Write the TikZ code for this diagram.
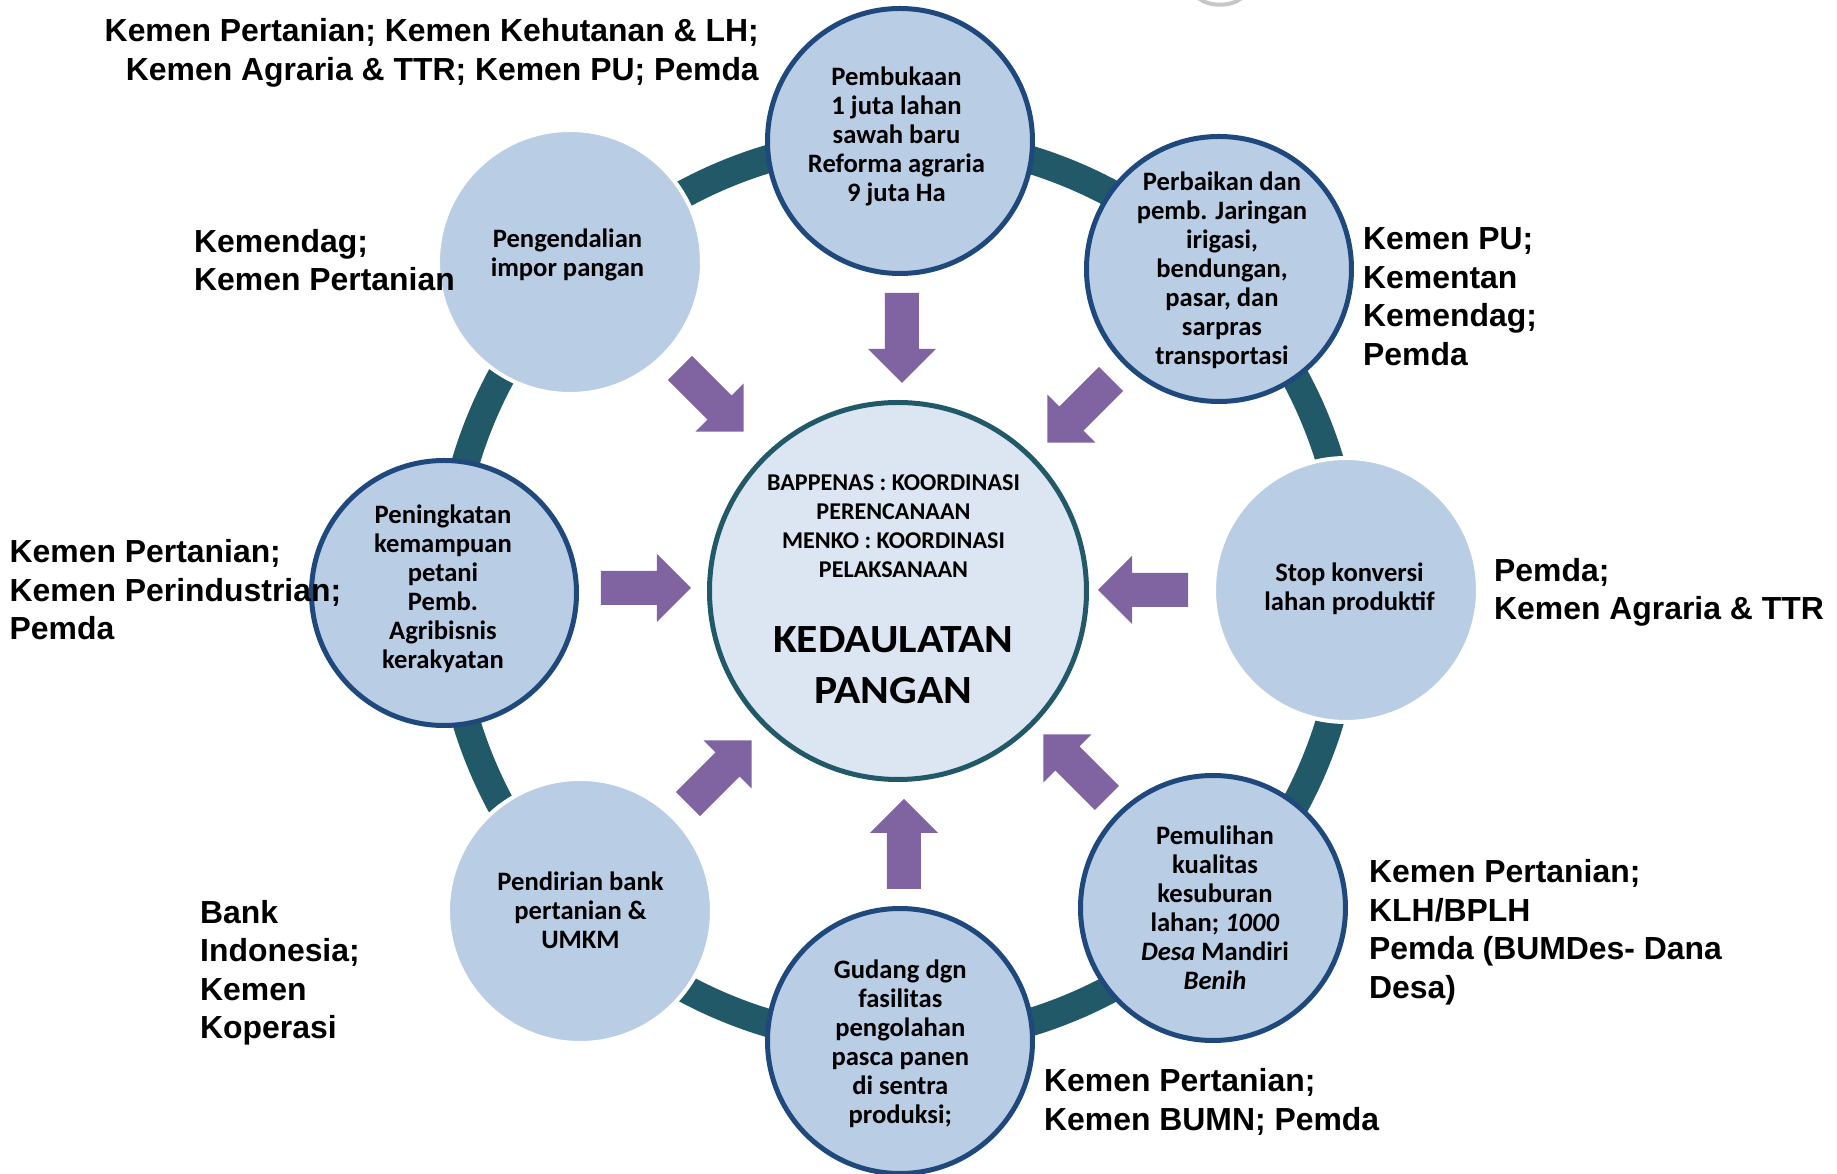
\documentclass[tikz,border=0pt]{standalone}
\usepackage{fontspec}
\setmainfont{Carlito}
\newfontfamily\arialfont{Liberation Sans}
\newfontfamily\titlefont{Carlito}[FakeStretch=1.09]
\usepackage{xcolor}

\definecolor{ringteal}{HTML}{215968}
\definecolor{satfill}{HTML}{B9CDE5}
\definecolor{satline}{HTML}{1F497D}
\definecolor{hubfill}{HTML}{DCE6F2}
\definecolor{arrowpurple}{HTML}{8064A2}

\tikzset{
  inarrow/.pic={\fill[arrowpurple] (0,-17) -- (56,-17) -- (56,-34) -- (90,0) -- (56,34) -- (56,17) -- (0,17) -- cycle;}
}

\begin{document}
\begin{tikzpicture}[x=1pt,y=1pt,
  hub/.style={circle,draw=ringteal,line width=5pt,fill=hubfill,minimum size=377pt,inner sep=0pt},
  sat/.style={circle,draw=satline,line width=5pt,fill=satfill,minimum size=265pt,inner sep=0pt},
  satplain/.style={circle,draw=white,line width=4pt,fill=satfill,minimum size=264pt,inner sep=0pt},
  sattext/.style={align=center,inner sep=0pt,font=\bfseries\fontsize{26.6pt}{29pt}\selectfont},
  hubnote/.style={align=center,inner sep=0pt,font=\bfseries\fontsize{24.1pt}{29pt}\selectfont},
  hubtitle/.style={align=center,inner sep=0pt,font=\titlefont\bfseries\fontsize{40pt}{51pt}\selectfont},
  agency/.style={align=left,inner sep=0pt,anchor=west,font=\arialfont\bfseries\fontsize{31.9pt}{38.5pt}\selectfont}]
\useasboundingbox (-898,-583) rectangle (939,591);
% ring behind the circles
\draw[ringteal,line width=28pt] (0,0) circle[radius=451];
\node[hub] (hub) at (0,0) {};
% grey rim at the top edge
\draw[gray!45,line width=4pt] (300,593) .. controls (312,584) and (332,584) .. (344,593);
% arrows into the hub
\pic[rotate=-90] at (4,298) {inarrow};
\pic[rotate=-45] at (-218,223) {inarrow};
\pic[rotate=-135] at (213,212) {inarrow};
\pic at (-297,3) {inarrow};
\pic[rotate=180] at (290,1) {inarrow};
\pic[rotate=45] at (-210,-213) {inarrow};
\pic[rotate=90] at (6,-298) {inarrow};
\pic[rotate=135] at (209,-207) {inarrow};
% circles on the ring
\node[sat] (pembukaan) at (2,450) {};
\node[sat] (perbaikan) at (321,322) {};
\node[satplain] (stop) at (448,1) {};
\node[sat] (pemulihan) at (315,-317) {};
\node[sat] (gudang) at (2,-450) {};
\node[satplain] (pendirian) at (-318,-320) {};
\node[sat] (peningkatan) at (-454,-2) {};
\node[satplain] (pengendalian) at (-328,329) {};
% texts in the circles
\node[hubnote] (hubtop) at (-4.5,65) {BAPPENAS : KOORDINASI\\PERENCANAAN\\MENKO : KOORDINASI\\PELAKSANAAN};
\node[hubtitle] (hubname) at (-4.7,-74) {KEDAULATAN\\PANGAN};
\node[sattext] (tpembukaan) at (-1.5,454.5) {Pembukaan\\1 juta lahan\\sawah baru\\Reforma agraria\\9 juta Ha};
\node[sattext] (tperbaikan) at (324,321) {Perbaikan dan\\pemb. Jaringan\\irigasi,\\bendungan,\\pasar, dan\\sarpras\\transportasi};
\node[sattext] (tstop) at (451.5,2) {Stop konversi\\lahan produktif};
\node[sattext] (tpemulihan) at (317,-316.6) {Pemulihan\\kualitas\\kesuburan\\lahan; \textit{1000}\\\textit{Desa} Mandiri\\\textit{Benih}};
\node[sattext] (tgudang) at (2.3,-452.3) {Gudang dgn\\fasilitas\\pengolahan\\pasca panen\\di sentra\\produksi;};
\node[sattext] (tpendirian) at (-317.5,-319) {Pendirian bank\\pertanian \&\\UMKM};
\node[sattext] (tpeningkatan) at (-455,2.7) {Peningkatan\\kemampuan\\petani\\Pemb.\\Agribisnis\\kerakyatan};
\node[sattext] (tpengendalian) at (-330.5,336.3) {Pengendalian\\impor pangan};
% agencies
\node[agency,anchor=east,align=right] (apembukaan) at (-139,538) {Kemen Pertanian; Kemen Kehutanan \& LH;\\Kemen Agraria \& TTR; Kemen PU; Pemda};
\node[agency] (apengendalian) at (-704,330.9) {Kemendag;\\Kemen Pertanian};
\node[agency] (aperbaikan) at (465,294.2) {Kemen PU;\\Kementan\\Kemendag;\\Pemda};
\node[agency] (astop) at (596,-1.2) {Pemda;\\Kemen Agraria \& TTR};
\node[agency] (apeningkatan) at (-888.5,1.2) {Kemen Pertanian;\\Kemen Perindustrian;\\Pemda};
\node[agency] (apendirian) at (-698,-382) {Bank\\Indonesia;\\Kemen\\Koperasi};
\node[agency] (apemulihan) at (471,-341.4) {Kemen Pertanian;\\KLH/BPLH\\Pemda (BUMDes- Dana\\Desa)};
\node[agency] (agudang) at (146,-510.9) {Kemen Pertanian;\\Kemen BUMN; Pemda};
\end{tikzpicture}
\end{document}
